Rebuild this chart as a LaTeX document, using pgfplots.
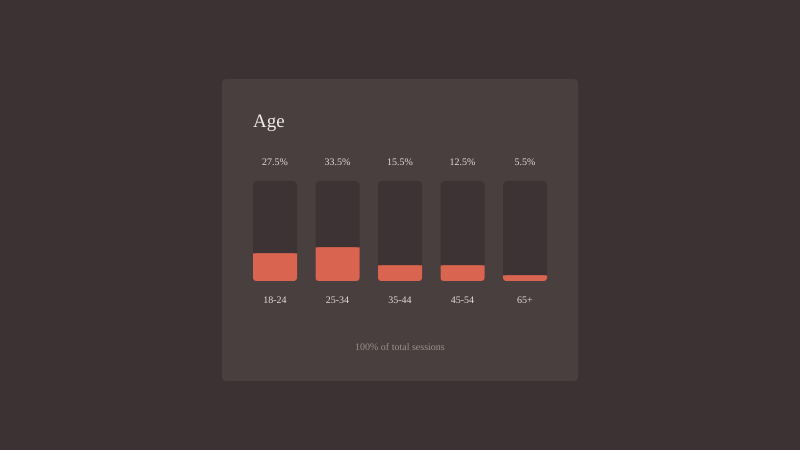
\documentclass[border=0pt]{standalone}
\usepackage{pgfplots}
\pgfplotsset{compat=1.18}
\usepackage{fontspec}
\setmainfont{Liberation Serif}

\definecolor{pagebg}{HTML}{3D3233}
\definecolor{cardbg}{HTML}{4A3F3F}
\definecolor{trackbg}{HTML}{3E3334}
\definecolor{barfill}{HTML}{D9644F}
\definecolor{titlecol}{HTML}{F2EBE9}
\definecolor{labelcol}{HTML}{E6DCDA}
\definecolor{footcol}{HTML}{9D908E}

\pgfplotsset{
  cardaxis/.style={
    at={(0,0)}, anchor=south west,
    width=800pt, height=450pt, scale only axis,
    xmin=-4.4, xmax=8.4,
    ymin=-169, ymax=281,
    hide axis, clip=false,
  },
}

\begin{document}
\begin{tikzpicture}[x=1pt,y=1pt]
  % page and card
  \fill[pagebg] (0,0) rectangle (800,450);
  \fill[cardbg, rounded corners=4pt] (222,69) rectangle (578,371);

  \begin{axis}[cardaxis]
    % empty tracks (100%)
    \addplot[ybar, bar width=44pt, bar shift=0pt, fill=trackbg, draw=none,
      rounded corners=4pt]
      coordinates {(0,100) (1,100) (2,100) (3,100) (4,100)};

    % share of sessions (rounded at the bottom)
    \addplot[ybar, bar width=44pt, bar shift=0pt, fill=barfill, draw=none,
      rounded corners=3pt]
      coordinates {(0,27.5) (1,33.5) (2,15.5) (3,15.5) (4,5.5)};

    % value labels above the tracks
    \addplot[draw=none, mark=none, nodes near coords, point meta=explicit symbolic,
      nodes near coords style={anchor=center, inner sep=0pt,
        font=\fontsize{10}{12}\selectfont, text=labelcol}]
      table[meta=label] {
        x y label
        0 119 27.5\%
        1 119 33.5\%
        2 119 15.5\%
        3 119 12.5\%
        4 119 5.5\%
      };

    % category names below
    \addplot[draw=none, mark=none, nodes near coords, point meta=explicit symbolic,
      nodes near coords style={anchor=center, inner sep=0pt,
        font=\fontsize{10}{12}\selectfont, text=labelcol}]
      table[meta=label] {
        x y label
        0 -19 18-24
        1 -19 25-34
        2 -19 35-44
        3 -19 45-54
        4 -19 65+
      };
  \end{axis}

  % square top edge of the filled part
  \begin{axis}[cardaxis, ybar stacked, bar width=44pt]
    \addplot[draw=none, fill=none]
      coordinates {(0,24.5) (1,30.5) (2,12.5) (3,12.5) (4,2.5)};
    \addplot[draw=none, fill=barfill]
      coordinates {(0,3) (1,3) (2,3) (3,3) (4,3)};
  \end{axis}

  \node[anchor=west, inner sep=0pt, text=titlecol, font=\fontsize{19}{22}\selectfont]
    at (253,327) {Age};
  \node[anchor=center, inner sep=0pt, text=footcol, font=\fontsize{10}{12}\selectfont]
    at (400,103) {100\% of total sessions};
\end{tikzpicture}
\end{document}
